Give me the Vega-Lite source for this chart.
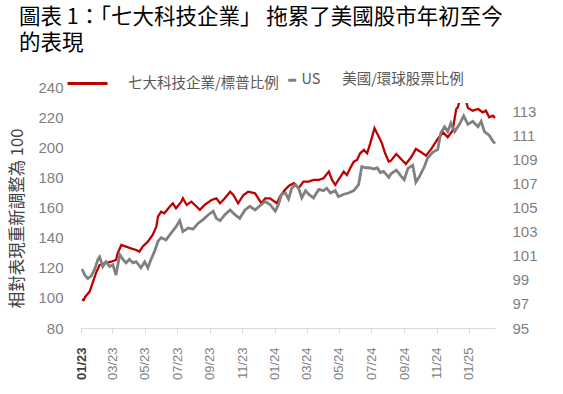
{
  "$schema": "https://vega.github.io/schema/vega-lite/v6.json",
  "width": 414,
  "height": 241,
  "autosize": {"type": "none"},
  "padding": {"left": 81, "top": 87, "right": 68, "bottom": 66},
  "background": "white",
  "config": {"view": {"stroke": null}, "axis": {"grid": false}},
  "title": {
    "text": ["圖表 1：「七大科技企業」 拖累了美國股市年初至今", "的表現"],
    "anchor": "start",
    "frame": "group",
    "font": "Noto Sans CJK TC",
    "fontSize": 21.5,
    "fontWeight": "normal",
    "color": "#000000",
    "lineHeight": 26,
    "dx": -62,
    "offset": 8
  },
  "data": {
    "values": [
      {"d": "2023-01-03", "s": "七大科技企業/標普比例", "v": 99.0},
      {"d": "2023-01-06", "s": "七大科技企業/標普比例", "v": 98.5},
      {"d": "2023-01-09", "s": "七大科技企業/標普比例", "v": 100.8},
      {"d": "2023-01-17", "s": "七大科技企業/標普比例", "v": 104},
      {"d": "2023-01-23", "s": "七大科技企業/標普比例", "v": 110},
      {"d": "2023-01-29", "s": "七大科技企業/標普比例", "v": 116.3},
      {"d": "2023-02-05", "s": "七大科技企業/標普比例", "v": 121.8},
      {"d": "2023-02-14", "s": "七大科技企業/標普比例", "v": 123},
      {"d": "2023-02-27", "s": "七大科技企業/標普比例", "v": 124},
      {"d": "2023-03-08", "s": "七大科技企業/標普比例", "v": 125.2},
      {"d": "2023-03-11", "s": "七大科技企業/標普比例", "v": 129.6},
      {"d": "2023-03-18", "s": "七大科技企業/標普比例", "v": 135.1},
      {"d": "2023-03-27", "s": "七大科技企業/標普比例", "v": 134},
      {"d": "2023-04-05", "s": "七大科技企業/標普比例", "v": 132.9},
      {"d": "2023-04-15", "s": "七大科技企業/標普比例", "v": 131.8},
      {"d": "2023-04-21", "s": "七大科技企業/標普比例", "v": 130.7},
      {"d": "2023-04-27", "s": "七大科技企業/標普比例", "v": 134},
      {"d": "2023-05-07", "s": "七大科技企業/標普比例", "v": 137.3},
      {"d": "2023-05-16", "s": "七大科技企業/標普比例", "v": 141.8},
      {"d": "2023-05-23", "s": "七大科技企業/標普比例", "v": 147.3},
      {"d": "2023-05-26", "s": "七大科技企業/標普比例", "v": 153.9},
      {"d": "2023-06-01", "s": "七大科技企業/標普比例", "v": 157.2},
      {"d": "2023-06-07", "s": "七大科技企業/標普比例", "v": 156.2},
      {"d": "2023-06-17", "s": "七大科技企業/標普比例", "v": 160.5},
      {"d": "2023-06-23", "s": "七大科技企業/標普比例", "v": 162.8},
      {"d": "2023-06-29", "s": "七大科技企業/標普比例", "v": 159.5},
      {"d": "2023-07-09", "s": "七大科技企業/標普比例", "v": 163.9},
      {"d": "2023-07-12", "s": "七大科技企業/標普比例", "v": 166.1},
      {"d": "2023-07-19", "s": "七大科技企業/標普比例", "v": 161.7},
      {"d": "2023-07-28", "s": "七大科技企業/標普比例", "v": 163.9},
      {"d": "2023-08-07", "s": "七大科技企業/標普比例", "v": 160.5},
      {"d": "2023-08-13", "s": "七大科技企業/標普比例", "v": 158.4},
      {"d": "2023-08-22", "s": "七大科技企業/標普比例", "v": 161.7},
      {"d": "2023-09-04", "s": "七大科技企業/標普比例", "v": 165},
      {"d": "2023-09-13", "s": "七大科技企業/標普比例", "v": 166.1},
      {"d": "2023-09-20", "s": "七大科技企業/標普比例", "v": 162.8},
      {"d": "2023-09-29", "s": "七大科技企業/標普比例", "v": 166.1},
      {"d": "2023-10-09", "s": "七大科技企業/標普比例", "v": 170.5},
      {"d": "2023-10-15", "s": "七大科技企業/標普比例", "v": 168.3},
      {"d": "2023-10-24", "s": "七大科技企業/標普比例", "v": 162.8},
      {"d": "2023-11-03", "s": "七大科技企業/標普比例", "v": 168.3},
      {"d": "2023-11-12", "s": "七大科技企業/標普比例", "v": 170.5},
      {"d": "2023-11-25", "s": "七大科技企業/標普比例", "v": 169.4},
      {"d": "2023-12-01", "s": "七大科技企業/標普比例", "v": 166.1},
      {"d": "2023-12-07", "s": "七大科技企業/標普比例", "v": 162.8},
      {"d": "2023-12-14", "s": "七大科技企業/標普比例", "v": 166.1},
      {"d": "2023-12-23", "s": "七大科技企業/標普比例", "v": 166.1},
      {"d": "2024-01-05", "s": "七大科技企業/標普比例", "v": 162.8},
      {"d": "2024-01-11", "s": "七大科技企業/標普比例", "v": 167.2},
      {"d": "2024-01-20", "s": "七大科技企業/標普比例", "v": 171.6},
      {"d": "2024-01-28", "s": "七大科技企業/標普比例", "v": 174.5},
      {"d": "2024-02-06", "s": "七大科技企業/標普比例", "v": 176.1},
      {"d": "2024-02-15", "s": "七大科技企業/標普比例", "v": 172.8},
      {"d": "2024-02-24", "s": "七大科技企業/標普比例", "v": 177.2},
      {"d": "2024-03-05", "s": "七大科技企業/標普比例", "v": 177.2},
      {"d": "2024-03-14", "s": "七大科技企業/標普比例", "v": 178.3},
      {"d": "2024-03-24", "s": "七大科技企業/標普比例", "v": 178.3},
      {"d": "2024-04-02", "s": "七大科技企業/標普比例", "v": 179.4},
      {"d": "2024-04-12", "s": "七大科技企業/標普比例", "v": 183.8},
      {"d": "2024-04-18", "s": "七大科技企業/標普比例", "v": 178.3},
      {"d": "2024-04-24", "s": "七大科技企業/標普比例", "v": 175},
      {"d": "2024-05-04", "s": "七大科技企業/標普比例", "v": 180.5},
      {"d": "2024-05-10", "s": "七大科技企業/標普比例", "v": 183.8},
      {"d": "2024-05-16", "s": "七大科技企業/標普比例", "v": 181.6},
      {"d": "2024-05-22", "s": "七大科技企業/標普比例", "v": 186},
      {"d": "2024-05-29", "s": "七大科技企業/標普比例", "v": 190.4},
      {"d": "2024-06-04", "s": "七大科技企業/標普比例", "v": 191.6},
      {"d": "2024-06-10", "s": "七大科技企業/標普比例", "v": 196},
      {"d": "2024-06-17", "s": "七大科技企業/標普比例", "v": 198.2},
      {"d": "2024-06-23", "s": "七大科技企業/標普比例", "v": 196},
      {"d": "2024-06-29", "s": "七大科技企業/標普比例", "v": 202.6},
      {"d": "2024-07-07", "s": "七大科技企業/標普比例", "v": 212.6},
      {"d": "2024-07-15", "s": "七大科技企業/標普比例", "v": 207},
      {"d": "2024-07-21", "s": "七大科技企業/標普比例", "v": 202.6},
      {"d": "2024-07-27", "s": "七大科技企業/標普比例", "v": 196},
      {"d": "2024-08-03", "s": "七大科技企業/標普比例", "v": 190.4},
      {"d": "2024-08-07", "s": "七大科技企業/標普比例", "v": 191.1},
      {"d": "2024-08-17", "s": "七大科技企業/標普比例", "v": 195.5},
      {"d": "2024-08-26", "s": "七大科技企業/標普比例", "v": 192.2},
      {"d": "2024-09-04", "s": "七大科技企業/標普比例", "v": 188.9},
      {"d": "2024-09-14", "s": "七大科技企業/標普比例", "v": 193.3},
      {"d": "2024-09-23", "s": "七大科技企業/標普比例", "v": 198.9},
      {"d": "2024-10-03", "s": "七大科技企業/標普比例", "v": 196.7},
      {"d": "2024-10-12", "s": "七大科技企業/標普比例", "v": 194.4},
      {"d": "2024-10-22", "s": "七大科技企業/標普比例", "v": 198.9},
      {"d": "2024-10-28", "s": "七大科技企業/標普比例", "v": 202.2},
      {"d": "2024-11-03", "s": "七大科技企業/標普比例", "v": 205.5},
      {"d": "2024-11-13", "s": "七大科技企業/標普比例", "v": 210},
      {"d": "2024-11-22", "s": "七大科技企業/標普比例", "v": 206.6},
      {"d": "2024-12-01", "s": "七大科技企業/標普比例", "v": 211},
      {"d": "2024-12-08", "s": "七大科技企業/標普比例", "v": 225.4},
      {"d": "2024-12-11", "s": "七大科技企業/標普比例", "v": 226.5},
      {"d": "2024-12-15", "s": "七大科技企業/標普比例", "v": 232},
      {"d": "2024-12-21", "s": "七大科技企業/標普比例", "v": 235},
      {"d": "2024-12-27", "s": "七大科技企業/標普比例", "v": 230},
      {"d": "2024-12-30", "s": "七大科技企業/標普比例", "v": 226},
      {"d": "2025-01-08", "s": "七大科技企業/標普比例", "v": 224.3},
      {"d": "2025-01-18", "s": "七大科技企業/標普比例", "v": 225.4},
      {"d": "2025-01-27", "s": "七大科技企業/標普比例", "v": 223.2},
      {"d": "2025-02-02", "s": "七大科技企業/標普比例", "v": 224.3},
      {"d": "2025-02-08", "s": "七大科技企業/標普比例", "v": 219.9},
      {"d": "2025-02-15", "s": "七大科技企業/標普比例", "v": 221},
      {"d": "2025-02-19", "s": "七大科技企業/標普比例", "v": 219.5},
      {"d": "2023-01-03", "s": "美國/環球股票比例", "v": 99.9},
      {"d": "2023-01-08", "s": "美國/環球股票比例", "v": 99.4},
      {"d": "2023-01-14", "s": "美國/環球股票比例", "v": 99.1},
      {"d": "2023-01-20", "s": "美國/環球股票比例", "v": 99.3},
      {"d": "2023-01-26", "s": "美國/環球股票比例", "v": 99.8},
      {"d": "2023-02-02", "s": "美國/環球股票比例", "v": 100.7},
      {"d": "2023-02-05", "s": "美國/環球股票比例", "v": 100.9},
      {"d": "2023-02-11", "s": "美國/環球股票比例", "v": 100.1},
      {"d": "2023-02-17", "s": "美國/環球股票比例", "v": 100.5},
      {"d": "2023-02-24", "s": "美國/環球股票比例", "v": 100.1},
      {"d": "2023-03-02", "s": "美國/環球股票比例", "v": 100.25},
      {"d": "2023-03-08", "s": "美國/環球股票比例", "v": 99.4},
      {"d": "2023-03-15", "s": "美國/環球股票比例", "v": 101.1},
      {"d": "2023-03-21", "s": "美國/環球股票比例", "v": 100.7},
      {"d": "2023-03-27", "s": "美國/環球股票比例", "v": 100.4},
      {"d": "2023-04-02", "s": "美國/環球股票比例", "v": 100.7},
      {"d": "2023-04-09", "s": "美國/環球股票比例", "v": 100.4},
      {"d": "2023-04-15", "s": "美國/環球股票比例", "v": 100.5},
      {"d": "2023-04-24", "s": "美國/環球股票比例", "v": 100.0},
      {"d": "2023-05-01", "s": "美國/環球股票比例", "v": 100.5},
      {"d": "2023-05-07", "s": "美國/環球股票比例", "v": 100.0},
      {"d": "2023-05-13", "s": "美國/環球股票比例", "v": 100.7},
      {"d": "2023-05-20", "s": "美國/環球股票比例", "v": 101.4},
      {"d": "2023-05-26", "s": "美國/環球股票比例", "v": 102.2},
      {"d": "2023-06-01", "s": "美國/環球股票比例", "v": 102.5},
      {"d": "2023-06-10", "s": "美國/環球股票比例", "v": 102.3},
      {"d": "2023-06-20", "s": "美國/環球股票比例", "v": 102.9},
      {"d": "2023-06-29", "s": "美國/環球股票比例", "v": 103.4},
      {"d": "2023-07-06", "s": "美國/環球股票比例", "v": 103.9},
      {"d": "2023-07-12", "s": "美國/環球股票比例", "v": 103.0},
      {"d": "2023-07-22", "s": "美國/環球股票比例", "v": 103.3},
      {"d": "2023-07-31", "s": "美國/環球股票比例", "v": 103.2},
      {"d": "2023-08-10", "s": "美國/環球股票比例", "v": 103.7},
      {"d": "2023-08-19", "s": "美國/環球股票比例", "v": 104.0},
      {"d": "2023-08-29", "s": "美國/環球股票比例", "v": 104.4},
      {"d": "2023-09-07", "s": "美國/環球股票比例", "v": 104.7},
      {"d": "2023-09-13", "s": "美國/環球股票比例", "v": 104.1},
      {"d": "2023-09-20", "s": "美國/環球股票比例", "v": 103.9},
      {"d": "2023-09-29", "s": "美國/環球股票比例", "v": 104.4},
      {"d": "2023-10-09", "s": "美國/環球股票比例", "v": 104.8},
      {"d": "2023-10-18", "s": "美國/環球股票比例", "v": 104.4},
      {"d": "2023-10-27", "s": "美國/環球股票比例", "v": 104.1},
      {"d": "2023-11-06", "s": "美國/環球股票比例", "v": 104.8},
      {"d": "2023-11-15", "s": "美國/環球股票比例", "v": 105.1},
      {"d": "2023-11-25", "s": "美國/環球股票比例", "v": 104.8},
      {"d": "2023-12-07", "s": "美國/環球股票比例", "v": 105.25},
      {"d": "2023-12-14", "s": "美國/環球股票比例", "v": 105.5},
      {"d": "2023-12-23", "s": "美國/環球股票比例", "v": 105.25},
      {"d": "2024-01-02", "s": "美國/環球股票比例", "v": 104.7},
      {"d": "2024-01-08", "s": "美國/環球股票比例", "v": 105.25},
      {"d": "2024-01-14", "s": "美國/環球股票比例", "v": 106.1},
      {"d": "2024-01-21", "s": "美國/環球股票比例", "v": 106.2},
      {"d": "2024-01-27", "s": "美國/環球股票比例", "v": 105.7},
      {"d": "2024-02-02", "s": "美國/環球股票比例", "v": 106.6},
      {"d": "2024-02-09", "s": "美國/環球股票比例", "v": 106.9},
      {"d": "2024-02-15", "s": "美國/環球股票比例", "v": 106.6},
      {"d": "2024-02-21", "s": "美國/環球股票比例", "v": 105.8},
      {"d": "2024-02-28", "s": "美國/環球股票比例", "v": 106.4},
      {"d": "2024-03-05", "s": "美國/環球股票比例", "v": 106.1},
      {"d": "2024-03-14", "s": "美國/環球股票比例", "v": 105.8},
      {"d": "2024-03-24", "s": "美國/環球股票比例", "v": 106.5},
      {"d": "2024-04-02", "s": "美國/環球股票比例", "v": 106.4},
      {"d": "2024-04-08", "s": "美國/環球股票比例", "v": 106.6},
      {"d": "2024-04-15", "s": "美國/環球股票比例", "v": 106.2},
      {"d": "2024-04-24", "s": "美國/環球股票比例", "v": 106.4},
      {"d": "2024-04-30", "s": "美國/環球股票比例", "v": 105.9},
      {"d": "2024-05-10", "s": "美國/環球股票比例", "v": 106.1},
      {"d": "2024-05-19", "s": "美國/環球股票比例", "v": 106.2},
      {"d": "2024-05-29", "s": "美國/環球股票比例", "v": 106.4},
      {"d": "2024-06-07", "s": "美國/環球股票比例", "v": 106.9},
      {"d": "2024-06-13", "s": "美國/環球股票比例", "v": 108.4},
      {"d": "2024-06-20", "s": "美國/環球股票比例", "v": 108.3},
      {"d": "2024-06-26", "s": "美國/環球股票比例", "v": 108.3},
      {"d": "2024-07-06", "s": "美國/環球股票比例", "v": 108.2},
      {"d": "2024-07-12", "s": "美國/環球股票比例", "v": 108.3},
      {"d": "2024-07-18", "s": "美國/環球股票比例", "v": 107.9},
      {"d": "2024-07-24", "s": "美國/環球股票比例", "v": 108.0},
      {"d": "2024-08-03", "s": "美國/環球股票比例", "v": 107.5},
      {"d": "2024-08-07", "s": "美國/環球股票比例", "v": 107.8},
      {"d": "2024-08-17", "s": "美國/環球股票比例", "v": 108.1},
      {"d": "2024-08-26", "s": "美國/環球股票比例", "v": 107.6},
      {"d": "2024-09-01", "s": "美國/環球股票比例", "v": 107.3},
      {"d": "2024-09-08", "s": "美國/環球股票比例", "v": 108.25},
      {"d": "2024-09-17", "s": "美國/環球股票比例", "v": 108.5},
      {"d": "2024-09-23", "s": "美國/環球股票比例", "v": 107.1},
      {"d": "2024-09-30", "s": "美國/環球股票比例", "v": 107.6},
      {"d": "2024-10-09", "s": "美國/環球股票比例", "v": 108.4},
      {"d": "2024-10-15", "s": "美國/環球股票比例", "v": 109.1},
      {"d": "2024-10-25", "s": "美國/環球股票比例", "v": 109.6},
      {"d": "2024-11-03", "s": "美國/環球股票比例", "v": 109.8},
      {"d": "2024-11-09", "s": "美國/環球股票比例", "v": 111.2},
      {"d": "2024-11-16", "s": "美國/環球股票比例", "v": 111.7},
      {"d": "2024-11-22", "s": "美國/環球股票比例", "v": 111.3},
      {"d": "2024-11-28", "s": "美國/環球股票比例", "v": 112.0},
      {"d": "2024-12-05", "s": "美國/環球股票比例", "v": 111.3},
      {"d": "2024-12-14", "s": "美國/環球股票比例", "v": 111.9},
      {"d": "2024-12-22", "s": "美國/環球股票比例", "v": 112.6},
      {"d": "2024-12-30", "s": "美國/環球股票比例", "v": 111.9},
      {"d": "2025-01-08", "s": "美國/環球股票比例", "v": 112.15},
      {"d": "2025-01-18", "s": "美國/環球股票比例", "v": 111.7},
      {"d": "2025-01-24", "s": "美國/環球股票比例", "v": 112.15},
      {"d": "2025-01-30", "s": "美國/環球股票比例", "v": 111.3},
      {"d": "2025-02-08", "s": "美國/環球股票比例", "v": 111.0},
      {"d": "2025-02-15", "s": "美國/環球股票比例", "v": 110.5},
      {"d": "2025-02-19", "s": "美國/環球股票比例", "v": 110.3}
    ]
  },
  "encoding": {
    "x": {
      "field": "d",
      "type": "temporal",
      "scale": {
        "type": "utc",
        "domain": [
          {"year": 2023, "month": 1, "date": 1, "utc": true},
          {"year": 2025, "month": 2, "date": 19, "utc": true}
        ]
      },
      "axis": {
        "title": null,
        "values": [
          {"year": 2023, "month": 1, "date": 1, "utc": true},
          {"year": 2023, "month": 3, "date": 1, "utc": true},
          {"year": 2023, "month": 5, "date": 1, "utc": true},
          {"year": 2023, "month": 7, "date": 1, "utc": true},
          {"year": 2023, "month": 9, "date": 1, "utc": true},
          {"year": 2023, "month": 11, "date": 1, "utc": true},
          {"year": 2024, "month": 1, "date": 1, "utc": true},
          {"year": 2024, "month": 3, "date": 1, "utc": true},
          {"year": 2024, "month": 5, "date": 1, "utc": true},
          {"year": 2024, "month": 7, "date": 1, "utc": true},
          {"year": 2024, "month": 9, "date": 1, "utc": true},
          {"year": 2024, "month": 11, "date": 1, "utc": true},
          {"year": 2025, "month": 1, "date": 1, "utc": true}
        ],
        "format": "%m/%y",
        "labelAngle": -90,
        "labelAlign": "right",
        "labelBaseline": "middle",
        "labelFont": "Liberation Sans",
        "labelFontSize": 13,
        "labelColor": {"condition": {"test": "datum.index == 0", "value": "#404040"}, "value": "#7f7f7f"},
        "labelFontWeight": {"condition": {"test": "datum.index == 0", "value": "bold"}, "value": "normal"},
        "labelPadding": 14,
        "labelDy": 9,
        "labelFlush": false,
        "labelOverlap": false,
        "tickSize": 5,
        "tickColor": "#d9d9d9",
        "domainColor": "#d9d9d9",
        "grid": false
      }
    }
  },
  "layer": [
    {
      "transform": [{"filter": "datum.s == '七大科技企業/標普比例'"}],
      "mark": {"type": "line", "strokeWidth": 2.3},
      "encoding": {
        "y": {
          "field": "v",
          "type": "quantitative",
          "scale": {"domain": [80, 240]},
          "axis": {
            "orient": "left",
            "values": [80, 100, 120, 140, 160, 180, 200, 220, 240],
            "domain": false,
            "ticks": false,
            "tickSize": 0,
            "labelPadding": 18,
            "labelFont": "Liberation Sans",
            "labelFontSize": 15,
            "labelColor": "#7f7f7f",
            "grid": false,
            "title": "相對表現重新調整為 100",
            "titleFont": "Noto Sans CJK TC",
            "titleFontSize": 16.5,
            "titleFontWeight": "normal",
            "titleColor": "#404040",
            "titleX": -63.5,
            "titleY": 131,
            "titleAngle": -90,
            "titleAlign": "center",
            "titleBaseline": "middle"
          }
        },
        "color": {
          "field": "s",
          "type": "nominal",
          "scale": {"range": ["#c00000"]},
          "legend": {
            "title": null,
            "orient": "none",
            "legendX": -15,
            "legendY": -25,
            "symbolType": "stroke",
            "symbolSize": 1600,
            "symbolStrokeWidth": 3,
            "labelOffset": 19,
            "padding": 0,
            "labelLimit": 300,
            "labelFont": "Noto Sans CJK TC",
            "labelFontSize": 14.5,
            "labelColor": "#595959"
          }
        }
      }
    },
    {
      "transform": [{"filter": "datum.s == '美國/環球股票比例'"}],
      "mark": {"type": "line", "strokeWidth": 2.8},
      "encoding": {
        "y": {
          "field": "v",
          "type": "quantitative",
          "scale": {"domain": [95, 115]},
          "axis": {
            "orient": "right",
            "values": [95, 97, 99, 101, 103, 105, 107, 109, 111, 113],
            "domain": false,
            "ticks": false,
            "tickSize": 0,
            "labelPadding": 17,
            "labelFont": "Liberation Sans",
            "labelFontSize": 15,
            "labelColor": "#7f7f7f",
            "grid": false,
            "title": null
          }
        },
        "color": {
          "field": "s",
          "type": "nominal",
          "scale": {"range": ["#808080"]},
          "legend": {
            "title": "\u00a0",
            "titleOrient": "bottom",
            "titleFontSize": 8,
            "titlePadding": 2,
            "orient": "none",
            "legendX": 198,
            "legendY": -20,
            "symbolType": "stroke",
            "symbolSize": 64,
            "symbolStrokeWidth": 3,
            "labelOffset": 2,
            "padding": 6,
            "fillColor": "white",
            "labelLimit": 400,
            "labelExpr": "'US\u2003\u2002' + datum.label + '\u2003\u2003\u2003\u2003'",
            "labelFont": "Noto Sans CJK TC",
            "labelFontSize": 14.5,
            "labelColor": "#595959"
          }
        }
      }
    }
  ],
  "resolve": {"scale": {"y": "independent", "color": "independent"}, "legend": {"color": "independent"}}
}
